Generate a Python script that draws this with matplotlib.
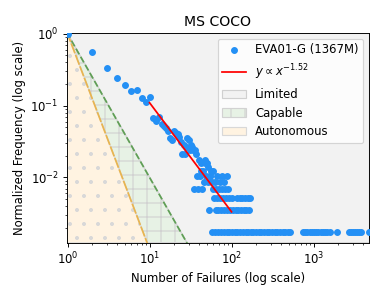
import numpy as np
import matplotlib
matplotlib.use("Agg")
import matplotlib.pyplot as plt

# failure counts -> how many samples hit that count
failures = [1, 2, 3, 4, 5, 6, 7, 8, 9, 10,
            11, 12, 13, 14, 15, 16, 17, 18, 19, 20,
            21, 22, 23, 24, 25, 26, 27, 28, 29, 30,
            31, 32, 33, 34, 35, 36, 37, 38, 39, 40,
            41, 42, 43, 44, 45, 46, 47, 48, 49, 50,
            51, 52, 53, 54, 55, 56,
            57, 62, 68, 74, 81, 87, 94, 101, 109, 118, 127, 137, 148, 160,
            172, 185, 199, 214, 231, 249, 268, 289, 311, 335, 361, 389, 419,
            452, 487, 520, 745, 790, 840, 895, 950, 1010, 1075, 1145, 1220,
            1300, 1385, 1475, 1570, 1960, 2710, 2870, 3040, 3230, 3420, 3620,
            3790, 4750,
            64, 69, 75, 82, 89, 96, 104, 112, 121, 131, 141, 152, 164,
            61, 66, 72, 78, 85, 92, 100, 117, 126, 136, 147, 158, 169,
            60, 65, 71, 77, 84, 90,
            58, 63, 73, 80,
            67, 76, 88,
            59]
counts = [572, 319, 189, 141, 111, 92, 96, 74, 65, 76,
          38, 35, 40, 32, 30, 28, 25, 20, 19, 25,
          24, 23, 21, 18, 12, 16, 12, 15, 20, 19,
          14, 16, 15, 14, 4, 14, 12, 6, 4, 10,
          6, 7, 9, 4, 7, 5, 10, 9, 6, 9,
          5, 8, 2, 6, 6, 7,
          1, 1, 1, 1, 1, 1, 1, 1, 1, 1, 1, 1, 1, 1,
          1, 1, 1, 1, 1, 1, 1, 1, 1, 1, 1, 1, 1,
          1, 1, 1, 1, 1, 1, 1, 1, 1, 1, 1, 1,
          1, 1, 1, 1, 1, 1, 1, 1, 1, 1, 1,
          1, 1,
          2, 2, 2, 2, 2, 2, 2, 2, 2, 2, 2, 2, 2,
          3, 3, 3, 3, 3, 3, 3, 3, 3, 3, 3, 3, 3,
          4, 4, 4, 4, 4, 4,
          5, 5, 5, 5,
          6, 6, 6,
          7]

model_name = "EVA01-G (1367M)"
fit_slope = -1.52
fit_coef = 3.64
fit_range = (10, 100)
# region boundaries: y = x^-3 (autonomous), y = x^-2 (capable)
auto_exp = -3
capable_exp = -2

x = np.array(failures, dtype=float)
y = np.array(counts, dtype=float) / max(counts)

dpi = 84
fig = plt.figure(figsize=(382 / dpi, 297 / dpi), dpi=dpi)
ax = fig.add_axes([0.175, 0.182, 0.791, 0.707])

xmin, xmax = 0.98, 4750
ymin, ymax = y.min() * 0.7, 1.03

xs = np.logspace(np.log10(xmin), np.log10(xmax), 400)
y_auto = np.clip(xs ** auto_exp, ymin, None)
y_cap = np.clip(xs ** capable_exp, ymin, None)

ax.fill_between(xs, y_cap, ymax, facecolor="#f2f2f2", edgecolor="#d0d0d0",
                linewidth=1.0, label="Limited", zorder=0)
ax.fill_between(xs, y_auto, y_cap, facecolor="#e7f2e5", edgecolor="#d2d2d2",
                hatch="+", linewidth=1.0, label="Capable", zorder=0)
ax.fill_between(xs, ymin, y_auto, facecolor="#fff3e1", edgecolor="#d8d8d8",
                hatch=".", linewidth=1.0, label="Autonomous", zorder=0)

ax.plot(xs, xs ** capable_exp, "--", color="#5f9f55", linewidth=1.5, zorder=1)
ax.plot(xs, xs ** auto_exp, "--", color="#e8b450", linewidth=1.5,
        dashes=(6, 1), zorder=1)

ax.scatter(x, y, s=24, color="#2490f5", label=model_name, zorder=3)

xf = np.logspace(np.log10(fit_range[0]), np.log10(fit_range[1]), 50)
ax.plot(xf, fit_coef * xf ** fit_slope, color="red", linewidth=1.5,
        label=r"$y \propto x^{%.2f}$" % fit_slope, zorder=4)

ax.set_xscale("log")
ax.set_yscale("log")
ax.set_xlim(xmin, xmax)
ax.set_ylim(ymin, ymax)

ax.set_title("MS COCO")
ax.set_xlabel("Number of Failures (log scale)")
ax.set_ylabel("Normalized Frequency (log scale)")

h, l = ax.get_legend_handles_labels()
order = [model_name, r"$y \propto x^{%.2f}$" % fit_slope, "Limited", "Capable", "Autonomous"]
hh = [h[l.index(o)] for o in order]
ax.legend(hh, order, loc="upper right")

fig.savefig("out.png", dpi=dpi)
